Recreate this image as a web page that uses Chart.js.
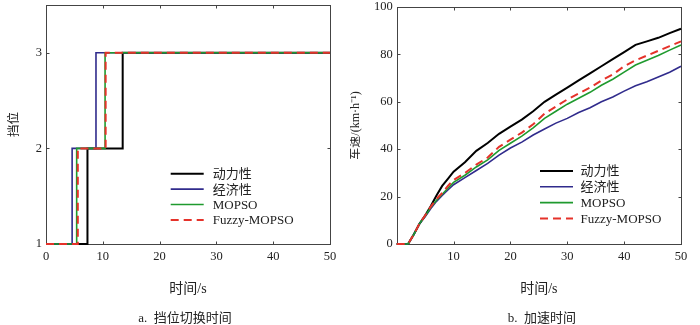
<!DOCTYPE html>
<html>
<head>
<meta charset="utf-8">
<script src="https://cdn.jsdelivr.net/npm/chart.js@4"></script>
<style>
    body { margin: 0; background: #fff; }
    #wrap { position: relative; width: 700px; height: 325px; }
    .box { position: absolute; top: 0; width: 350px; height: 325px; }
    .cap { position: absolute; top: 307px; font: 13px "Liberation Serif", "Noto Sans CJK SC"; white-space: pre; transform: translateX(-50%); color: #222; }
</style>
</head>
<body>
<div id="wrap">
    <div class="box" style="left:0"><canvas id="gearChart" width="350" height="325"></canvas></div>
    <div class="box" style="left:350px"><canvas id="speedChart" width="350" height="325"></canvas></div>
    <div class="cap" style="left:185px">a.  挡位切换时间</div>
    <div class="cap" style="left:542px">b.  加速时间</div>
</div>
<script>
// series names (shared by both plots)
const seriesNames = ['动力性', '经济性', 'MOPSO', 'Fuzzy-MOPSO'];
const seriesColors = ['#000000', '#302b8c', '#1f9a2e', '#e5322a'];

// gear plot: shift times in s (1->2, 2->3)
const gearLevels = [1, 2, 3];
const shiftDyn = [7.3, 13.5];
const shiftEco = [4.6, 8.8];
const shiftMopso = [5.4, 10.4];
const shiftFuzzy = [5.6, 10.5];
const gearTicksX = [0, 10, 20, 30, 40, 50];
const gearTicksY = [1, 2, 3];

// speed plot: time in s, speed in km/h
const speedTime = [0, 1, 2, 3, 4, 5, 6, 7, 8, 9, 10,
    12, 14, 16, 18, 20, 22, 24, 26, 28, 30, 32, 34, 36, 38, 40, 42, 44, 46, 48, 50];
const speedDyn = [0, 0, 0, 4, 8.5, 12, 16, 20.5, 24.5, 27.5, 30.5,
    34.5, 39.3, 42.6, 46.5, 49.5, 52.5, 56, 60, 63, 66, 69, 72, 75, 78, 81, 84, 85.5, 87, 89, 90.8];
const speedEco = [0, 0, 0, 4, 8.5, 11.5, 15, 18, 20.5, 22.8, 25,
    28, 31, 34, 37.5, 40.5, 43, 46, 48.5, 51, 53, 55.5, 57.5, 60, 62, 64.5, 66.8, 68.5, 70.5, 72.5, 75];
const speedMopso = [0, 0, 0, 4, 8.5, 11.8, 15.5, 18.5, 21, 23.5, 26,
    29, 32.5, 35.5, 39.5, 42.5, 45.5, 49, 53, 56, 59, 61.5, 64, 67, 69.5, 72.5, 75.5, 77.5, 79.5, 81.8, 84];
const speedFuzzy = [0, 0, 0, 4, 8.5, 12, 15.8, 19, 21.5, 24.5, 27,
    30, 33.5, 36.5, 41, 44, 47, 50.5, 55, 58, 61, 63.5, 66, 69, 71.5, 75, 77.5, 79.5, 81.5, 83.5, 85.5];
const speedTicksX = [10, 20, 30, 40, 50];
const speedTicksY = [0, 20, 40, 60, 80, 100];

const serif = '"Liberation Serif", "Noto Sans CJK SC"';
const textColor = '#222';

// box around the plot with small inward ticks on all four sides
const framePlugin = {
    id: 'frame',
    beforeDatasetsDraw(chart) {
        const { ctx, chartArea: a, scales } = chart;
        const L = Math.round(a.left) + 0.5, R = Math.round(a.right) + 0.5;
        const T = Math.round(a.top) + 0.5, B = Math.round(a.bottom) + 0.5;
        ctx.save();
        ctx.strokeStyle = '#444';
        ctx.lineWidth = 1;
        ctx.strokeRect(L, T, R - L, B - T);
        ctx.beginPath();
        scales.x.ticks.forEach(t => {
            const px = Math.round(scales.x.getPixelForValue(t.value)) + 0.5;
            ctx.moveTo(px, B); ctx.lineTo(px, B - 3);
            ctx.moveTo(px, T); ctx.lineTo(px, T + 3);
        });
        scales.y.ticks.forEach(t => {
            const py = Math.round(scales.y.getPixelForValue(t.value)) + 0.5;
            ctx.moveTo(L, py); ctx.lineTo(L + 3, py);
            ctx.moveTo(R, py); ctx.lineTo(R - 3, py);
        });
        ctx.stroke();
        ctx.restore();
    }
};

// legend drawn inside the plot area
const insideLegend = {
    id: 'insideLegend',
    afterDatasetsDraw(chart, args, opts) {
        const { ctx, chartArea } = chart;
        ctx.save();
        ctx.font = '13px ' + serif;
        ctx.textBaseline = 'middle';
        chart.data.datasets.forEach((ds, i) => {
            const x0 = chartArea.left + opts.left;
            const y = chartArea.top + opts.top + i * opts.rowGap;
            ctx.strokeStyle = ds.borderColor;
            ctx.lineWidth = ds.borderWidth;
            ctx.setLineDash(ds.borderDash || []);
            ctx.beginPath();
            ctx.moveTo(x0, y);
            ctx.lineTo(x0 + opts.lineLen, y);
            ctx.stroke();
            ctx.setLineDash([]);
            ctx.fillStyle = textColor;
            ctx.fillText(ds.label, x0 + opts.lineLen + opts.gap, y + 1);
        });
        ctx.restore();
    }
};

function gearSteps(shifts) {
    return [
        { x: 0, y: gearLevels[0] },
        { x: shifts[0], y: gearLevels[0] },
        { x: shifts[0], y: gearLevels[1] },
        { x: shifts[1], y: gearLevels[1] },
        { x: shifts[1], y: gearLevels[2] },
        { x: 50, y: gearLevels[2] }
    ];
}

function makeDataset(i, data) {
    return {
        label: seriesNames[i],
        data: data,
        borderColor: seriesColors[i],
        borderWidth: i === 0 || i === 3 ? 2 : 1.6,
        borderDash: i === 3 ? [8, 5] : [],
        pointRadius: 0,
        fill: false,
        tension: 0,
        clip: false,
        order: 3 - i   // later series drawn on top
    };
}

function axes(ticksX, ticksY, maxY, minY, yTitle, yWidth, yTitleFont, yTitlePad) {
    return {
        x: {
            type: 'linear', min: 0, max: 50,
            grid: { display: false, drawTicks: false }, border: { display: false },
            afterBuildTicks: s => { s.ticks = ticksX.map(v => ({ value: v })); },
            afterFit: s => { s.height = 81; s.paddingLeft = 0; s.paddingRight = 0; },
            ticks: { padding: 5, maxRotation: 0, autoSkip: false, color: textColor, font: { family: serif, size: 12.5 } },
            title: { display: true, text: '时间/s', color: textColor, font: { family: serif, size: 14, lineHeight: 1.2 }, padding: { top: 0, bottom: 27 } }
        },
        y: {
            type: 'linear', min: minY, max: maxY,
            grid: { display: false, drawTicks: false }, border: { display: false },
            afterBuildTicks: s => { s.ticks = ticksY.map(v => ({ value: v })); },
            afterFit: s => { s.width = yWidth; s.paddingTop = 0; s.paddingBottom = 0; },
            ticks: { padding: 4, autoSkip: false, color: textColor, font: { family: serif, size: 12.5 } },
            title: { display: true, text: yTitle, color: textColor, font: { family: serif, size: yTitleFont, lineHeight: 1 }, padding: { top: yTitlePad, bottom: 0 } }
        }
    };
}

document.addEventListener('DOMContentLoaded', function () {
    const gearCtx = document.getElementById('gearChart').getContext('2d');
    new Chart(gearCtx, {
        type: 'line',
        data: {
            datasets: [
                makeDataset(0, gearSteps(shiftDyn)),
                makeDataset(1, gearSteps(shiftEco)),
                makeDataset(2, gearSteps(shiftMopso)),
                makeDataset(3, gearSteps(shiftFuzzy))
            ]
        },
        options: {
            responsive: false,
            animation: false,
            layout: { padding: { top: 5, right: 20, bottom: 0, left: 0 } },
            scales: axes(gearTicksX, gearTicksY, 3.5, 1, '挡位', 46, 12.5, 8),
            plugins: {
                legend: { display: false },
                tooltip: { enabled: false },
                insideLegend: { left: 124.7, top: 168.7, rowGap: 15.4, lineLen: 33, gap: 9 }
            }
        },
        plugins: [framePlugin, insideLegend]
    });

    const toPoints = vals => vals.map((v, i) => ({ x: speedTime[i], y: v }));
    const speedCtx = document.getElementById('speedChart').getContext('2d');
    new Chart(speedCtx, {
        type: 'line',
        data: {
            datasets: [
                makeDataset(0, toPoints(speedDyn)),
                makeDataset(1, toPoints(speedEco)),
                makeDataset(2, toPoints(speedMopso)),
                makeDataset(3, toPoints(speedFuzzy))
            ]
        },
        options: {
            responsive: false,
            animation: false,
            layout: { padding: { top: 7, right: 19, bottom: 0, left: 0 } },
            scales: axes(speedTicksX, speedTicksY, 100, 0, '车速/(km·h⁻¹)', 46.7, 12, 0),
            plugins: {
                legend: { display: false },
                tooltip: { enabled: false },
                insideLegend: { left: 143.3, top: 164, rowGap: 15.8, lineLen: 33, gap: 7.5 }
            }
        },
        plugins: [framePlugin, insideLegend]
    });
});
</script>
</body>
</html>
